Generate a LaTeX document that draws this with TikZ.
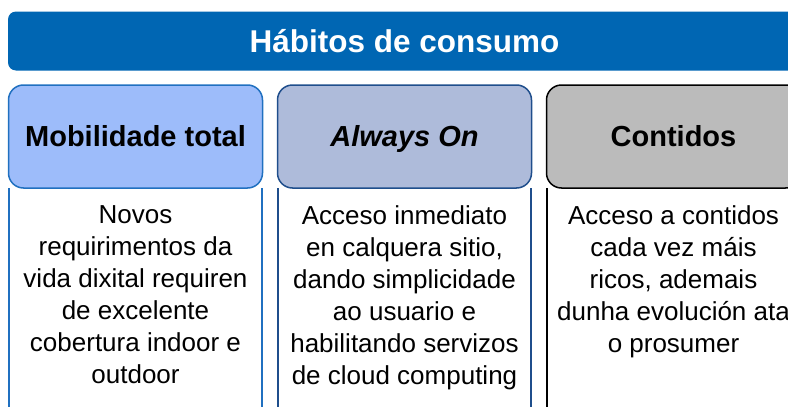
\documentclass[tikz,border=0pt]{standalone}
\usepackage{fontspec}
\usepackage{xcolor}
\usepackage{tikz}
\setmainfont{Liberation Sans}

\definecolor{bannerblue}{HTML}{0066B3}
\definecolor{mobfill}{HTML}{9DBCFA}
\definecolor{mobline}{HTML}{2070C0}
\definecolor{alwfill}{HTML}{AEBBDA}
\definecolor{alwline}{HTML}{1F4E8C}
\definecolor{confill}{HTML}{BBBBBB}

\tikzset{
  header/.style={rounded corners=15pt, line width=1.5pt, minimum width=254pt, minimum height=103pt, inner sep=0pt,
    text height=20.8pt, text depth=0pt, font=\fontsize{29}{32}\selectfont\bfseries},
  bodytext/.style={anchor=north, inner sep=0pt, align=center, font=\fontsize{26}{32}\selectfont}
}

\begin{document}
\begin{tikzpicture}[x=1pt,y=1pt,yscale=-1,xscale=1]
\useasboundingbox (0,0) rectangle (788,407);
\clip (0,0) rectangle (788,407);

% banner
\node (banner) [fill=bannerblue, rounded corners=8pt, minimum width=793pt, minimum height=59pt, inner sep=0pt,
  text height=22.5pt, text depth=0pt, text=white, font=\fontsize{31.5}{32}\selectfont\bfseries] at (404.5,41) {Hábitos de consumo};

% bodies (open below the crop)
\draw [mobline, line width=1.5pt] (9,188) -- (9,420) (262,188) -- (262,420);
\draw [alwline, line width=1.5pt] (278,188) -- (278,420) (531,188) -- (531,420);
\draw [black, line width=1.5pt] (547,188) -- (547,420) (800,188) -- (800,420);

% headers
\node (mob) [header, draw=mobline, fill=mobfill] at (135.5,136.5) {Mobilidade total};
\node (alw) [header, draw=alwline, fill=alwfill] at (404.5,136.5) {\itshape Always On};
\node (con) [header, draw=black, fill=confill] at (673.5,136.5) {Contidos};

% texts
\node (mobtxt) [bodytext] at (135.5,205) {Novos\\requirimentos da\\vida dixital requiren\\de excelente\\cobertura indoor e\\outdoor};
\node (alwtxt) [bodytext] at (404.5,205) {Acceso inmediato\\en calquera sitio,\\dando simplicidade\\ao usuario e\\habilitando servizos\\de cloud computing};
\node (contxt) [bodytext] at (673.5,205) {Acceso a contidos\\cada vez máis\\ricos, ademais\\dunha evolución ata\\o prosumer};

\end{tikzpicture}
\end{document}
